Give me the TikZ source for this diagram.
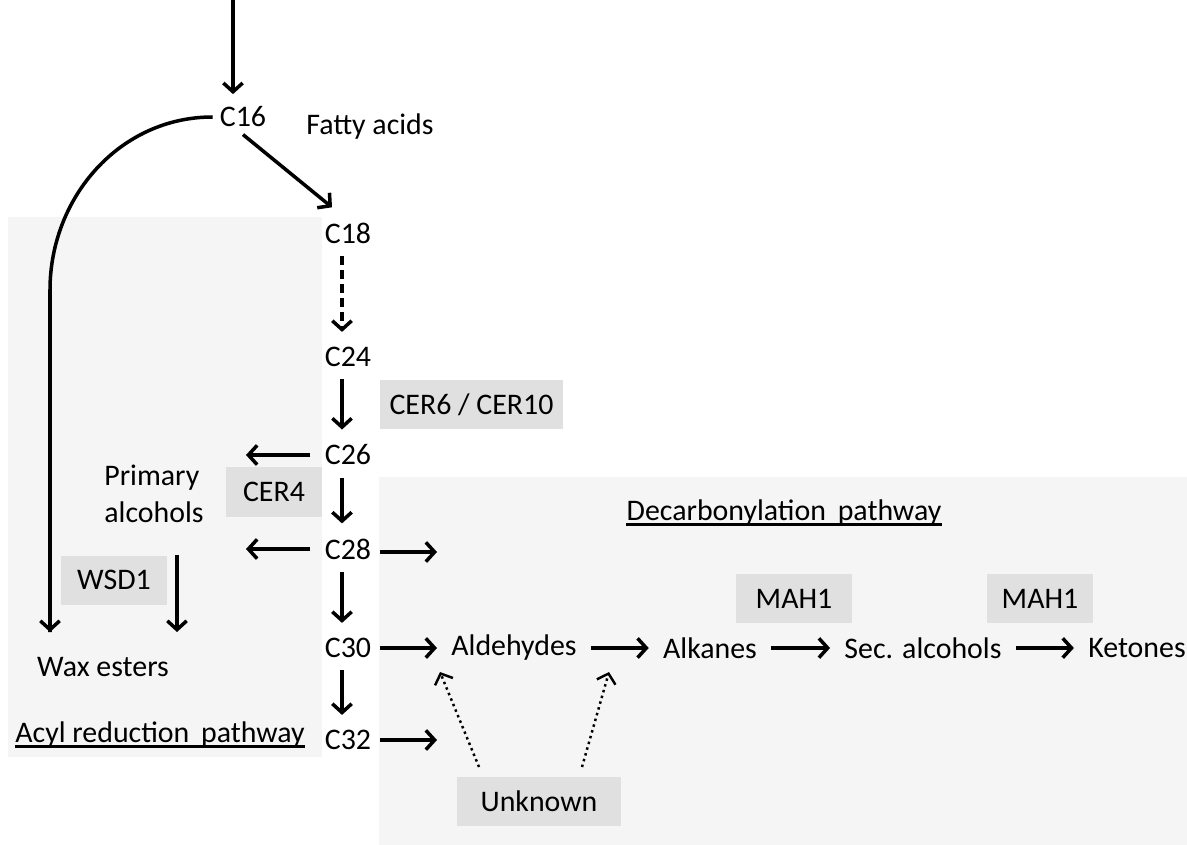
\documentclass[tikz,border=0pt]{standalone}
\usepackage{fontspec}
\setmainfont{Carlito}
\usetikzlibrary{arrows.meta}

\tikzset{
    arr/.style={-{Straight Barb[length=5pt,width=11pt]}, line width=2pt},
    vstep/.style={arr, shorten <=3pt, shorten >=4.5pt},
    hstep/.style={arr, shorten <=4pt, shorten >=4pt},
    cmpd/.style={inner sep=4pt, font=\fontsize{17}{21}\selectfont},
    enzyme/.style={fill=enzgray, inner sep=0pt, font=\fontsize{17}{21}\selectfont},
    ttl/.style={inner sep=0pt, font=\fontsize{17}{21}\selectfont}
}
\definecolor{bggray}{HTML}{F5F5F5}
\definecolor{enzgray}{HTML}{E0E0E0}

\begin{document}
\begin{tikzpicture}[x=0.02cm, y=-0.02cm]
    \useasboundingbox (0,0) rectangle (1187,845);

    % pathway backgrounds
    \fill[bggray] (8,217) rectangle (322,757);
    \fill[bggray] (379,477) rectangle (1187,845);

    % chain lengths
    \node[cmpd] (c16) at (243,117) {C16};
    \node[cmpd] (c18) at (348,233) {C18};
    \node[cmpd] (c24) at (348,357) {C24};
    \node[cmpd] (c26) at (348,455) {C26};
    \node[cmpd] (c28) at (348,549) {C28};
    \node[cmpd] (c30) at (348,648) {C30};
    \node[cmpd] (c32) at (348,740) {C32};
    \node[cmpd] (fatty) at (370,127) {Fatty acids};

    % products
    \node[cmpd, align=left] (prim) at (154,494) {Primary\\alcohols};
    \node[cmpd] (wax) at (103,667) {Wax esters};
    \node[cmpd] (ald) at (514,648) {Aldehydes};
    \node[cmpd] (alk) at (710,648) {Alkanes};
    \node[cmpd] (sec) at (923,648) {Sec. alcohols};
    \node[cmpd] (ket) at (1137,648) {Ketones};

    % enzymes
    \node[enzyme, minimum width=3.66cm, minimum height=0.98cm] (cer610) at (471.5,404.5) {CER6 / CER10};
    \node[enzyme, minimum width=1.92cm, minimum height=1.0cm] (cer4) at (274,492) {CER4};
    \node[enzyme, minimum width=2.12cm, minimum height=0.98cm] (wsd1) at (114,580) {WSD1};
    \node[enzyme, minimum width=2.32cm, minimum height=0.98cm] (mah1a) at (794,598.5) {MAH1};
    \node[enzyme, minimum width=2.12cm, minimum height=0.98cm] (mah1b) at (1040,598.5) {MAH1};
    \node[enzyme, minimum width=3.28cm, minimum height=0.98cm] (unk) at (539,801) {Unknown};

    % pathway titles
    \node[ttl] (acyl) at (160,735) {Acyl reduction\, pathway};
    \node[ttl] (decarb) at (784,513) {Decarbonylation\, pathway};
    \draw[line width=1.3pt] ([yshift=-2pt]acyl.base west) -- ([yshift=-2pt]acyl.base east);
    \draw[line width=1.3pt] ([yshift=-2pt]decarb.base west) -- ([yshift=-2pt]decarb.base east);

    % free ends
    \coordinate (spine) at (342,0);
    \coordinate (input) at (233,0);
    \coordinate (alcL) at (246,455);
    \coordinate (alcR) at (246,549);
    \coordinate (c28out) at (437,552);
    \coordinate (c32out) at (437,740);
    \coordinate (waxL) at (50,632);
    \coordinate (wsdtop) at (177,555);
    \coordinate (waxR) at (177,632);
    \coordinate (unkL) at (479,767);
    \coordinate (unkR) at (582,767);
    \coordinate (aldIn) at (440,672);
    \coordinate (alkIn) at (609,672);

    % elongation
    \draw[arr, shorten >=3pt] (input) -- (input |- c16.north);
    \draw[arr] (c16.south) -- ([shift={(-16,-8)}]c18.north);
    \draw[vstep, dash pattern=on 5pt off 3pt] (c18.south -| spine) -- (c24.north -| spine);
    \foreach \a/\b in {c24/c26, c26/c28, c28/c30, c30/c32}
        \draw[vstep] (\a.south -| spine) -- (\b.north -| spine);

    % acyl reduction
    \draw[arr, shorten <=4pt] (c26.west) -- (alcL);
    \draw[arr, shorten <=4pt] (c28.west) -- (alcR);
    \draw[line width=2pt] (c16.west) to[out=180, in=90] (waxL |- 0,290) -- (waxL);
    \draw[arr] (waxL |- 0,600) -- (waxL);
    \draw[arr] (wsdtop) -- (waxR);

    % decarbonylation
    \draw[arr, shorten <=1pt] (c28.east |- c28out) -- (c28out);
    \draw[hstep, shorten <=1pt] (c30.east) -- (ald.west);
    \draw[arr, shorten <=1pt] (c32.east) -- (c32out);
    \draw[hstep] (ald.east) -- (alk.west);
    \draw[hstep] (alk.east) -- (sec.west);
    \draw[hstep] (sec.east) -- (ket.west);
    \draw[arr, line width=1.4pt, dotted] (unkL) -- (aldIn);
    \draw[arr, line width=1.4pt, dotted] (unkR) -- (alkIn);
\end{tikzpicture}
\end{document}
